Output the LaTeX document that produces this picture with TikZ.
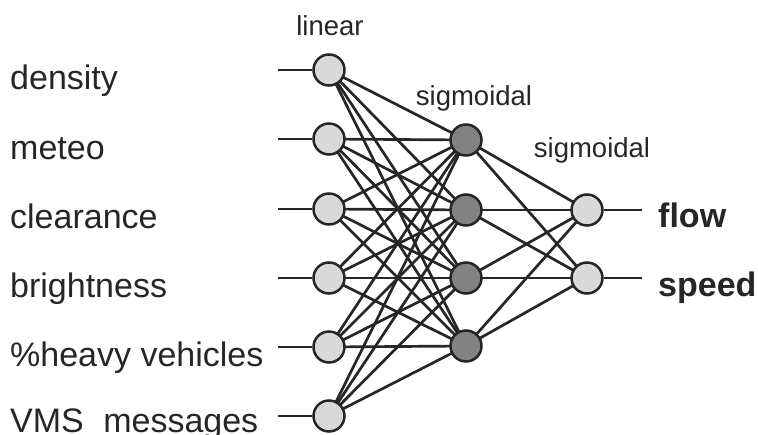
\documentclass[tikz,border=0pt]{standalone}
\usepackage{fontspec}
\setmainfont{Liberation Sans}
\usetikzlibrary{backgrounds}
\definecolor{ink}{HTML}{262626}
\definecolor{lightfill}{HTML}{D9D9D9}
\definecolor{darkfill}{HTML}{828282}
\tikzset{
  neuron/.style={circle, draw=ink, line width=2.5pt, minimum size=31pt, inner sep=0pt},
  inneuron/.style={neuron, fill=lightfill},
  hidneuron/.style={neuron, fill=darkfill},
  outneuron/.style={neuron, fill=lightfill},
  wire/.style={draw=ink, line width=2.7pt},
  inlabel/.style={anchor=base west, inner sep=0pt, text=ink, font=\fontsize{34}{40}\selectfont},
  outlabel/.style={anchor=base west, inner sep=0pt, text=ink, font=\fontsize{34}{40}\selectfont\bfseries},
  layerlabel/.style={anchor=base, inner sep=0pt, text=ink, font=\fontsize{27.5}{32}\selectfont}
}
\begin{document}
\begin{tikzpicture}[x=1pt, y=-1pt]
  \useasboundingbox (0,0) rectangle (758,434);

  % input layer
  \foreach \k/\y in {1/70, 2/139, 3/209, 4/278, 5/347, 6/416} {
    \node[inneuron] (i\k) at (329,\y) {};
    \coordinate (s\k) at (278,\y);
  }
  % hidden layer
  \foreach \k/\y in {1/140, 2/210, 3/278, 4/346} {
    \node[hidneuron] (h\k) at (466,\y) {};
  }
  % output layer
  \foreach \k/\y in {1/210, 2/278} {
    \node[outneuron] (o\k) at (587,\y) {};
    \coordinate (e\k) at (642,\y);
  }

  % connections
  \begin{scope}[on background layer]
    \foreach \k in {1,...,6} {
      \draw[wire] (s\k) -- (i\k);
      \foreach \j in {1,...,4} {
        \draw[wire] (i\k.center) -- (h\j.center);
      }
    }
    \foreach \j in {1,...,4} {
      \foreach \m in {1,2} {
        \draw[wire] (h\j.center) -- (o\m.center);
      }
    }
    \foreach \m in {1,2} {
      \draw[wire] (o\m) -- (e\m);
    }
  \end{scope}

  % input names
  \node[inlabel] (t1) at (10,89) {density};
  \node[inlabel] (t2) at (10,159) {meteo};
  \node[inlabel] (t3) at (10,228) {clearance};
  \node[inlabel] (t4) at (10,297) {brightness};
  \node[inlabel] (t5) at (10,366) {\%heavy vehicles};
  \node[inlabel] (t6) at (10,432) {VMS\hspace{10pt} messages};

  % output names
  \node[outlabel] (u1) at (658,227) {flow};
  \node[outlabel] (u2) at (658,296) {speed};

  % layer activation types
  \node[layerlabel] (l1) at (330,35) {linear};
  \node[layerlabel] (l2) at (474,105) {sigmoidal};
  \node[layerlabel] (l3) at (592,157) {sigmoidal};
\end{tikzpicture}
\end{document}
